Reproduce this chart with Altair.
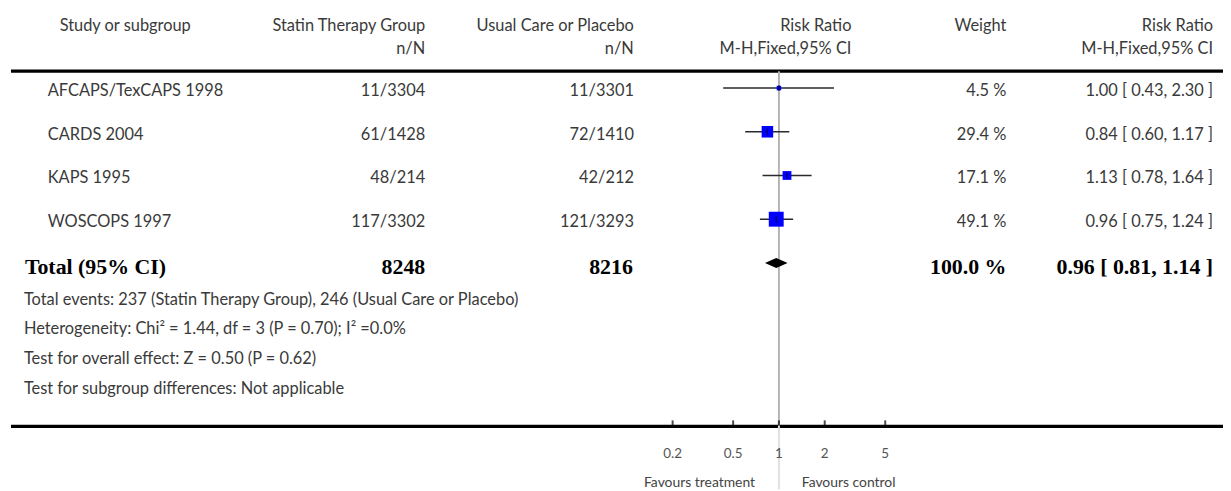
import altair as alt
import pandas as pd

# ---------------- data ----------------
studies = ["AFCAPS/TexCAPS 1998", "CARDS 2004", "KAPS 1995", "WOSCOPS 1997"]
treat_nN = ["11/3304", "61/1428", "48/214", "117/3302"]
ctrl_nN = ["11/3301", "72/1410", "42/212", "121/3293"]
weights = [4.5, 29.4, 17.1, 49.1]
rr = [1.00, 0.84, 1.13, 0.96]
rr_lo = [0.43, 0.60, 0.78, 0.75]
rr_hi = [2.30, 1.17, 1.64, 1.24]

total_label = "Total (95% CI)"
total_treat_N = "8248"
total_ctrl_N = "8216"
total_weight = "100.0 %"
total_rr = 0.96
total_lo = 0.81
total_hi = 1.14

header_top = ["Study or subgroup", "Statin Therapy Group", "Usual Care or Placebo", "Risk Ratio", "Weight", "Risk Ratio"]
header_sub = ["n/N", "n/N", "M-H,Fixed,95% CI", "M-H,Fixed,95% CI"]

footnotes = [
    "Total events: 237 (Statin Therapy Group), 246 (Usual Care or Placebo)",
    "Heterogeneity: Chi\u00b2 = 1.44, df = 3 (P = 0.70); I\u00b2 =0.0%",
    "Test for overall effect: Z = 0.50 (P = 0.62)",
    "Test for subgroup differences: Not applicable",
]

axis_ticks = [0.2, 0.5, 1, 2, 5]
axis_tick_labels = ["0.2", "0.5", "1", "2", "5"]
favours = ["Favours treatment", "Favours control"]

# ---------------- layout ----------------
W, H = 1223, 483
FONT = "Lato"
SERIF = "Liberation Serif"
TXT = "#3a3a3a"
FS = 16.5
BFS = 22

xscale = alt.Scale(type="log", domain=[0.2, 5], range=[669, 883])
yscale = alt.Scale(domain=[0, 4], range=[79, 255])

rows = pd.DataFrame({
    "study": studies,
    "treat": treat_nN,
    "ctrl": ctrl_nN,
    "w": weights,
    "rr": rr,
    "lo": rr_lo,
    "hi": rr_hi,
    "row": list(range(len(studies))),
})
rows["wtxt"] = [f"{w:.1f} %" for w in weights]
rows["citxt"] = [f"{a:.2f} [ {b:.2f}, {c:.2f} ]" for a, b, c in zip(rr, rr_lo, rr_hi)]

total_row = len(studies)


def label(text, x, y, align="left", size=FS, weight="normal", font=FONT, color=TXT):
    return alt.Chart(pd.DataFrame({"t": [text]})).mark_text(
        align=align, baseline="middle", font=font, fontSize=size,
        fontWeight=weight, color=color
    ).encode(x=alt.value(x), y=alt.value(y), text="t:N")


def hline(y, x1=3, x2=W, width=3.2, color="black"):
    return alt.Chart(pd.DataFrame({"a": [0]})).mark_rule(
        color=color, strokeWidth=width
    ).encode(x=alt.value(x1), x2=alt.value(x2), y=alt.value(y))


layers = []

# headers
layers += [
    label(header_top[0], 52, 17),
    label(header_top[1], 420, 17, align="right"),
    label(header_top[2], 630, 17, align="right"),
    label(header_top[3], 849, 17, align="right"),
    label(header_top[4], 1005, 17, align="right"),
    label(header_top[5], 1213, 17, align="right"),
    label(header_sub[0], 420, 40, align="right"),
    label(header_sub[1], 630, 40, align="right"),
    label(header_sub[2], 849, 40, align="right"),
    label(header_sub[3], 1213, 40, align="right"),
]

# horizontal rules
layers += [hline(62), hline(419.5)]

ref = pd.DataFrame({"v": [1.0]})
layers.append(
    alt.Chart(ref).mark_rule(color="#b4b4b4", strokeWidth=2).encode(
        x=alt.X("v:Q", scale=xscale, axis=None), y=alt.value(62), y2=alt.value(419))
)
layers.append(
    alt.Chart(ref).mark_rule(color="#e0e0e0", strokeWidth=2).encode(
        x=alt.X("v:Q", scale=xscale, axis=None), y=alt.value(419), y2=alt.value(H))
)

base = alt.Chart(rows)
Y = alt.Y("row:Q", scale=yscale, axis=None)

# CI lines
layers.append(
    base.mark_rule(color="#2a2a2a", strokeWidth=1.5).encode(
        x=alt.X("lo:Q", scale=xscale, axis=None), x2="hi:Q", y=Y)
)
# squares
layers.append(
    base.mark_square(color="#0000ff", opacity=1).encode(
        x=alt.X("rr:Q", scale=xscale, axis=None), y=Y,
        size=alt.Size("w:Q", scale=alt.Scale(domain=[0, 49.1], range=[0, 225]), legend=None))
)
# point tick
layers.append(
    base.mark_tick(color="black", thickness=1.2, size=6, orient="vertical").encode(
        x=alt.X("rr:Q", scale=xscale, axis=None), y=Y)
)

# diamond
h = 5 / 44
dia = pd.DataFrame({
    "x": [total_lo, total_rr, total_hi],
    "y1": [total_row, total_row - h, total_row],
    "y2": [total_row, total_row + h, total_row],
})
layers.append(
    alt.Chart(dia).mark_area(color="black", interpolate="linear").encode(
        x=alt.X("x:Q", scale=xscale, axis=None),
        y=alt.Y("y1:Q", scale=yscale, axis=None), y2="y2:Q")
)

# table text columns
def col(field, x, align):
    return base.mark_text(align=align, baseline="middle", font=FONT, fontSize=FS,
                          color=TXT, dy=3).encode(x=alt.value(x), y=Y, text=f"{field}:N")

layers += [
    col("study", 40, "left"),
    col("treat", 420, "right"),
    col("ctrl", 630, "right"),
    col("wtxt", 1005, "right"),
    col("citxt", 1213, "right"),
]

# total row
ty = 259
layers += [
    label(total_label, 17, ty, size=BFS, weight="bold", font=SERIF, color="black"),
    label(total_treat_N, 420, ty, align="right", size=BFS, weight="bold", font=SERIF, color="black"),
    label(total_ctrl_N, 629, ty, align="right", size=BFS, weight="bold", font=SERIF, color="black"),
    label(total_weight, 1005, ty, align="right", size=BFS, weight="bold", font=SERIF, color="black"),
    label(f"{total_rr:.2f} [ {total_lo:.2f}, {total_hi:.2f} ]", 1213, ty, align="right",
          size=BFS, weight="bold", font=SERIF, color="black"),
]

# footnotes
for i, t in enumerate(footnotes):
    layers.append(label(t, 16, 292 + 30 * i))

# axis ticks and labels
ticks = pd.DataFrame({"v": axis_ticks, "lab": axis_tick_labels})
layers.append(
    alt.Chart(ticks).mark_tick(color="black", thickness=2, size=5, orient="vertical").encode(
        x=alt.X("v:Q", scale=xscale, axis=None), y=alt.value(416))
)
layers.append(
    alt.Chart(ticks).mark_text(font=FONT, fontSize=13.5, color="#555555", baseline="middle").encode(
        x=alt.X("v:Q", scale=xscale, axis=None), y=alt.value(447), text="lab:N")
)
layers += [
    label(favours[0], 752, 477, align="right", size=14, color="#444444"),
    label(favours[1], 799, 477, align="left", size=14, color="#444444"),
]

chart = alt.layer(*layers).properties(
    width=W, height=H, padding=0,
    autosize=alt.AutoSizeParams(type="none"),
    background="white",
).configure_view(stroke=None)

chart.save("out.html", embed_options={"renderer": "svg", "actions": False})
